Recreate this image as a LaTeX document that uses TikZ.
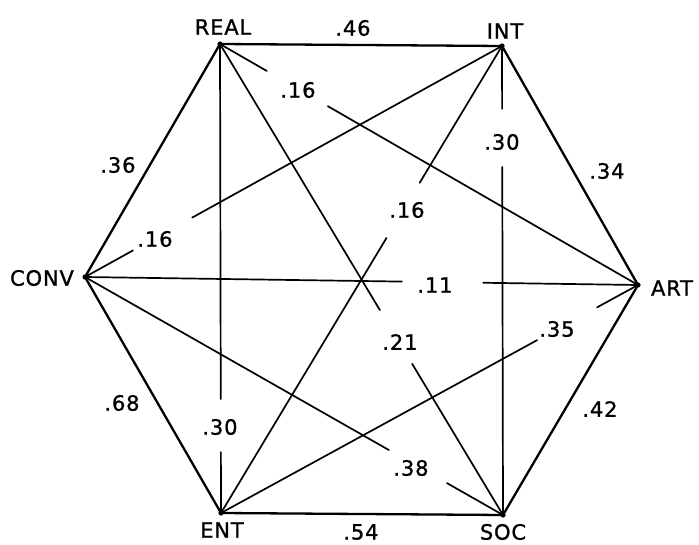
\documentclass[tikz,border=0pt]{standalone}
\usepackage{fontspec}
\setmainfont{DejaVu Sans}[LetterSpace=4,UprightFeatures={FakeBold=1.1}]
\usetikzlibrary{calc}
\newcommand\gappedline[4]{%
  \draw[diag] (#1) -- ($(#1)!#3!(#2)$);
  \draw[diag] ($(#1)!#4!(#2)$) -- (#2);}
\begin{document}
\begin{tikzpicture}[x=1pt,y=-1pt,
  edge/.style={line width=2.3pt, line cap=round, line join=round},
  diag/.style={line width=1.7pt, line cap=round},
  vname/.style={font=\fontsize{21}{21}\selectfont, inner sep=0pt},
  wt/.style={font=\fontsize{21}{21}\selectfont, inner sep=0pt}]
\useasboundingbox (0,0) rectangle (699,545);
% vertices
\coordinate (REAL) at (220,44);
\coordinate (INT) at (502,46);
\coordinate (ART) at (638,285);
\coordinate (SOC) at (503,515);
\coordinate (ENT) at (221,513);
\coordinate (CONV) at (85,277);
% vertex names
\node[vname] (lREAL) at (223,27) {REAL};
\node[vname] (lINT) at (505,31) {INT};
\node[vname] (lART) at (672,288) {ART};
\node[vname] (lSOC) at (503,532) {SOC};
\node[vname] (lENT) at (222,530) {ENT};
\node[vname] (lCONV) at (42,278) {CONV};
% hexagon
\draw[edge] (REAL) -- (INT) -- (ART) -- (SOC) -- (ENT) -- (CONV) -- cycle;
% diagonals with gaps
\gappedline{REAL}{ART}{0.112}{0.258}
\gappedline{CONV}{INT}{0.115}{0.257}
\gappedline{ENT}{INT}{0.589}{0.707}
\gappedline{CONV}{ART}{0.573}{0.720}
\gappedline{REAL}{SOC}{0.565}{0.679}
\gappedline{CONV}{SOC}{0.727}{0.866}
\gappedline{REAL}{ENT}{0.757}{0.870}
\gappedline{INT}{SOC}{0.134}{0.258}
\gappedline{ENT}{ART}{0.758}{0.902}
% vertex dots
\foreach \v in {REAL,INT,ART,SOC,ENT,CONV} \fill (\v) circle (2.6);
% weights
\node[wt] (w46) at (353,28) {.46};
\node[wt] (w34) at (607,171) {.34};
\node[wt] (w42) at (600,409) {.42};
\node[wt] (w54) at (361,532) {.54};
\node[wt] (w68) at (122,403) {.68};
\node[wt] (w36) at (118,165) {.36};
\node[wt] (w16a) at (298,90) {.16};
\node[wt] (w30a) at (502,142) {.30};
\node[wt] (w16b) at (155,239) {.16};
\node[wt] (w16c) at (407,210) {.16};
\node[wt] (w11) at (435,285) {.11};
\node[wt] (w21) at (400,342) {.21};
\node[wt] (w35) at (557,329) {.35};
\node[wt] (w30b) at (220,427) {.30};
\node[wt] (w38) at (411,468) {.38};
\end{tikzpicture}
\end{document}
